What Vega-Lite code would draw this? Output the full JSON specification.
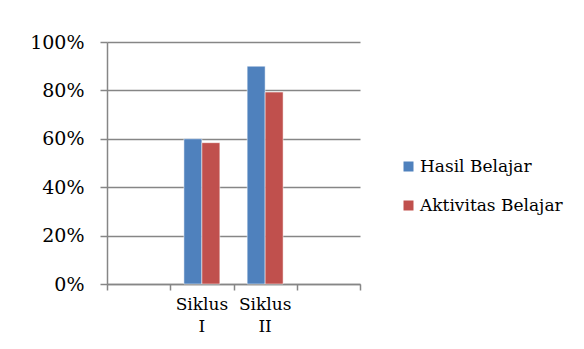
{
  "$schema": "https://vega.github.io/schema/vega-lite/v6.json",
  "width": 253,
  "height": 242,
  "autosize": "none",
  "padding": {"left": 107, "top": 42, "right": 224, "bottom": 65},
  "background": "white",
  "config": {"view": {"stroke": null}, "font": "DejaVu Serif, Liberation Serif, serif"},
  "data": {
    "values": [
      {"siklus": "Siklus I", "seri": "Hasil Belajar", "nilai": 0.60},
      {"siklus": "Siklus I", "seri": "Aktivitas Belajar", "nilai": 0.584},
      {"siklus": "Siklus II", "seri": "Hasil Belajar", "nilai": 0.90},
      {"siklus": "Siklus II", "seri": "Aktivitas Belajar", "nilai": 0.793}
    ]
  },
  "resolve": {"axis": {"x": "independent"}},
  "layer": [
    {
      "mark": {"type": "bar", "stroke": "white", "strokeWidth": 0.5},
      "encoding": {
        "x": {
          "field": "siklus",
          "type": "nominal",
          "scale": {"domain": ["kosong1", "Siklus I", "Siklus II", "kosong2"], "paddingInner": 0, "paddingOuter": 0},
          "axis": {
            "orient": "bottom",
            "title": null,
            "labelAngle": 0,
            "labelExpr": "indexof(datum.value, 'Siklus') == 0 ? split(datum.value, ' ') : ''",
            "labelFont": "DejaVu Serif, Liberation Serif, serif",
            "labelFontSize": 17,
            "labelLineHeight": 22,
            "labelPadding": 12,
            "labelColor": "black",
            "ticks": false,
            "domainColor": "#868686",
            "domainWidth": 1.5,
            "grid": false
          }
        },
        "xOffset": {
          "field": "seri",
          "type": "nominal",
          "scale": {"domain": ["Hasil Belajar", "Aktivitas Belajar"], "paddingInner": 0, "paddingOuter": 0.76}
        },
        "y": {
          "field": "nilai",
          "type": "quantitative",
          "scale": {"domain": [0, 1]},
          "axis": {
            "title": null,
            "values": [0, 0.2, 0.4, 0.6, 0.8, 1],
            "format": ".0%",
            "grid": true,
            "gridColor": "#868686",
            "gridWidth": 1.5,
            "domainColor": "#868686",
            "domainWidth": 1.5,
            "tickColor": "#868686",
            "tickWidth": 1.5,
            "tickSize": 7,
            "labelFont": "DejaVu Serif, Liberation Serif, serif",
            "labelFontSize": 19,
            "labelPadding": 16,
            "labelColor": "black"
          }
        },
        "color": {
          "field": "seri",
          "type": "nominal",
          "scale": {"domain": ["Hasil Belajar", "Aktivitas Belajar"], "range": ["#4F81BD", "#C0504D"]},
          "legend": {
            "title": null,
            "orient": "none",
            "legendX": 293,
            "legendY": 116,
            "padding": 0,
            "symbolType": "square",
            "symbolSize": 100,
            "symbolStrokeWidth": 0,
            "labelFont": "DejaVu Serif, Liberation Serif, serif",
            "labelFontSize": 17,
            "labelColor": "black",
            "labelOffset": 3,
            "rowPadding": 21
          }
        }
      }
    },
    {
      "mark": {"type": "bar", "opacity": 0},
      "encoding": {
        "x": {
          "field": "siklus",
          "type": "nominal",
          "axis": {
            "orient": "bottom",
            "title": null,
            "tickBand": "extent",
            "labels": false,
            "domain": false,
            "grid": false,
            "tickSize": 6,
            "tickColor": "#868686",
            "tickWidth": 1.5
          }
        },
        "y": {"field": "nilai", "type": "quantitative"}
      }
    }
  ]
}
